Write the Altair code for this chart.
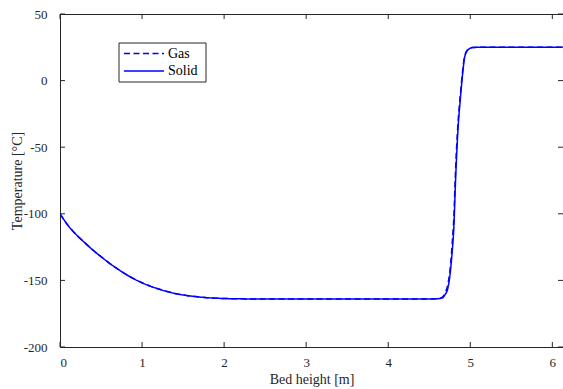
import altair as alt
import pandas as pd

# Bed height [m]
bed_height = [0, 0.05, 0.1, 0.15, 0.2, 0.3, 0.4, 0.5, 0.6, 0.7, 0.8, 0.9, 1.0, 1.1, 1.2, 1.4, 1.6,
              1.8, 2.0, 2.3, 2.7, 3.0, 3.5, 4.0, 4.4, 4.6, 4.65, 4.69, 4.73, 4.76,
              4.78, 4.80, 4.82, 4.85, 4.88, 4.91, 4.93, 4.97, 5.03, 5.1, 5.5, 6.13]
# Temperatures [°C]
solid_temp = [-100, -104.6, -108.9, -112.5, -115.8, -121.6, -127.2, -132.2, -137, -141.3, -145.3, -148.8, -151.8,
              -154.3, -156.4, -159.8, -161.8, -163, -163.6, -163.9, -164, -164, -164,
              -164, -164, -163.8, -163.3, -161, -155, -142, -128, -110, -76, -37, -13,
              7, 17, 23, 24.8, 25, 25, 25]
gas_temp = [-100, -104.6, -108.9, -112.5, -115.8, -121.6, -127.2, -132.2, -137, -141.3, -145.3, -148.8, -151.8,
            -154.3, -156.4, -159.8, -161.8, -163, -163.6, -163.9, -164, -164, -164,
            -164, -164, -163.7, -163.0, -160, -152, -138, -122, -102, -68, -32, -10,
            9, 18, 23.5, 24.9, 25, 25, 25]
series = ["Gas", "Solid"]

x_ticks = [0, 1, 2, 3, 4, 5, 6]
y_ticks = [-200, -150, -100, -50, 0, 50]

W, H = 503, 333
FONT = "Liberation Serif"
AX = "#262626"
BLUE = "#0000ff"

rows = []
for name, vals in zip(series, [gas_temp, solid_temp]):
    for i, (x, t) in enumerate(zip(bed_height, vals)):
        rows.append({"x": x, "T": t, "series": name, "order": i})
df = pd.DataFrame(rows)

xs = alt.Scale(domain=[0, 6.13], nice=False, zero=False)
ys = alt.Scale(domain=[-200, 50], nice=False, zero=False)

ax_style = dict(ticks=False, domain=False, grid=False,
                labelExpr="'' + datum.value",
                labelFont=FONT, titleFont=FONT, labelFontSize=13, titleFontSize=14,
                titleFontWeight="normal", labelColor=AX, titleColor=AX)

lines = alt.Chart(df).mark_line(strokeWidth=1.5, color=BLUE, clip=True,
                                interpolate="monotone").encode(
    x=alt.X("x:Q", scale=xs, title="Bed height [m]",
            axis=alt.Axis(values=x_ticks, labelPadding=9, titlePadding=3, **ax_style)),
    y=alt.Y("T:Q", scale=ys, title="Temperature [°C]",
            axis=alt.Axis(values=y_ticks, labelPadding=13, titlePadding=-1, **ax_style)),
    strokeDash=alt.StrokeDash(
        "series:N",
        scale=alt.Scale(domain=series, range=[[6, 3.5], [1, 0]]),
        legend=None,
    ),
    detail="series:N",
    order="order:Q",
)

xt = pd.DataFrame({"x": x_ticks})
yt = pd.DataFrame({"y": y_ticks})

bottom_ticks = alt.Chart(xt).mark_rule(color=AX, strokeWidth=1).encode(
    x=alt.X("x:Q", scale=xs), y=alt.value(H), y2=alt.value(H - 5))
top_ticks = alt.Chart(xt).mark_rule(color=AX, strokeWidth=1).encode(
    x=alt.X("x:Q", scale=xs), y=alt.value(0), y2=alt.value(5))
left_ticks = alt.Chart(yt).mark_rule(color=AX, strokeWidth=1).encode(
    y=alt.Y("y:Q", scale=ys), x=alt.value(0), x2=alt.value(5))
right_ticks = alt.Chart(yt).mark_rule(color=AX, strokeWidth=1).encode(
    y=alt.Y("y:Q", scale=ys), x=alt.value(W), x2=alt.value(W - 5))

# legend (drawn manually, MATLAB style)
leg = pd.DataFrame({"series": series, "row": [0, 1]})
leg_box = alt.Chart(pd.DataFrame({"a": [0]})).mark_rect(
    fill="white", stroke=AX, strokeWidth=1).encode(
    x=alt.value(59), x2=alt.value(146), y=alt.value(29), y2=alt.value(68))
leg_gas = alt.Chart(leg[leg.series == "Gas"]).mark_rule(
    color=BLUE, strokeWidth=1.5, strokeDash=[6, 3.5]).encode(
    x=alt.value(64), x2=alt.value(104), y=alt.value(39.5))
leg_solid = alt.Chart(leg[leg.series == "Solid"]).mark_rule(
    color=BLUE, strokeWidth=1.5).encode(
    x=alt.value(64), x2=alt.value(104), y=alt.value(57))
leg_gas_t = alt.Chart(leg[leg.series == "Gas"]).mark_text(
    font=FONT, fontSize=14, color="black", align="left", baseline="middle").encode(
    text="series:N", x=alt.value(108), y=alt.value(39.5))
leg_solid_t = alt.Chart(leg[leg.series == "Solid"]).mark_text(
    font=FONT, fontSize=14, color="black", align="left", baseline="middle").encode(
    text="series:N", x=alt.value(108), y=alt.value(57))

chart = alt.layer(lines, bottom_ticks, top_ticks, left_ticks, right_ticks,
                  leg_box, leg_gas, leg_solid, leg_gas_t, leg_solid_t).properties(
    width=W, height=H,
    background="white",
    autosize=alt.AutoSizeParams(type="none"),
    padding={"left": 60, "top": 14, "right": 0, "bottom": 42},
).configure_view(stroke=AX, strokeWidth=1)

chart.save("out.html", embed_options={"renderer": "svg", "actions": False})
